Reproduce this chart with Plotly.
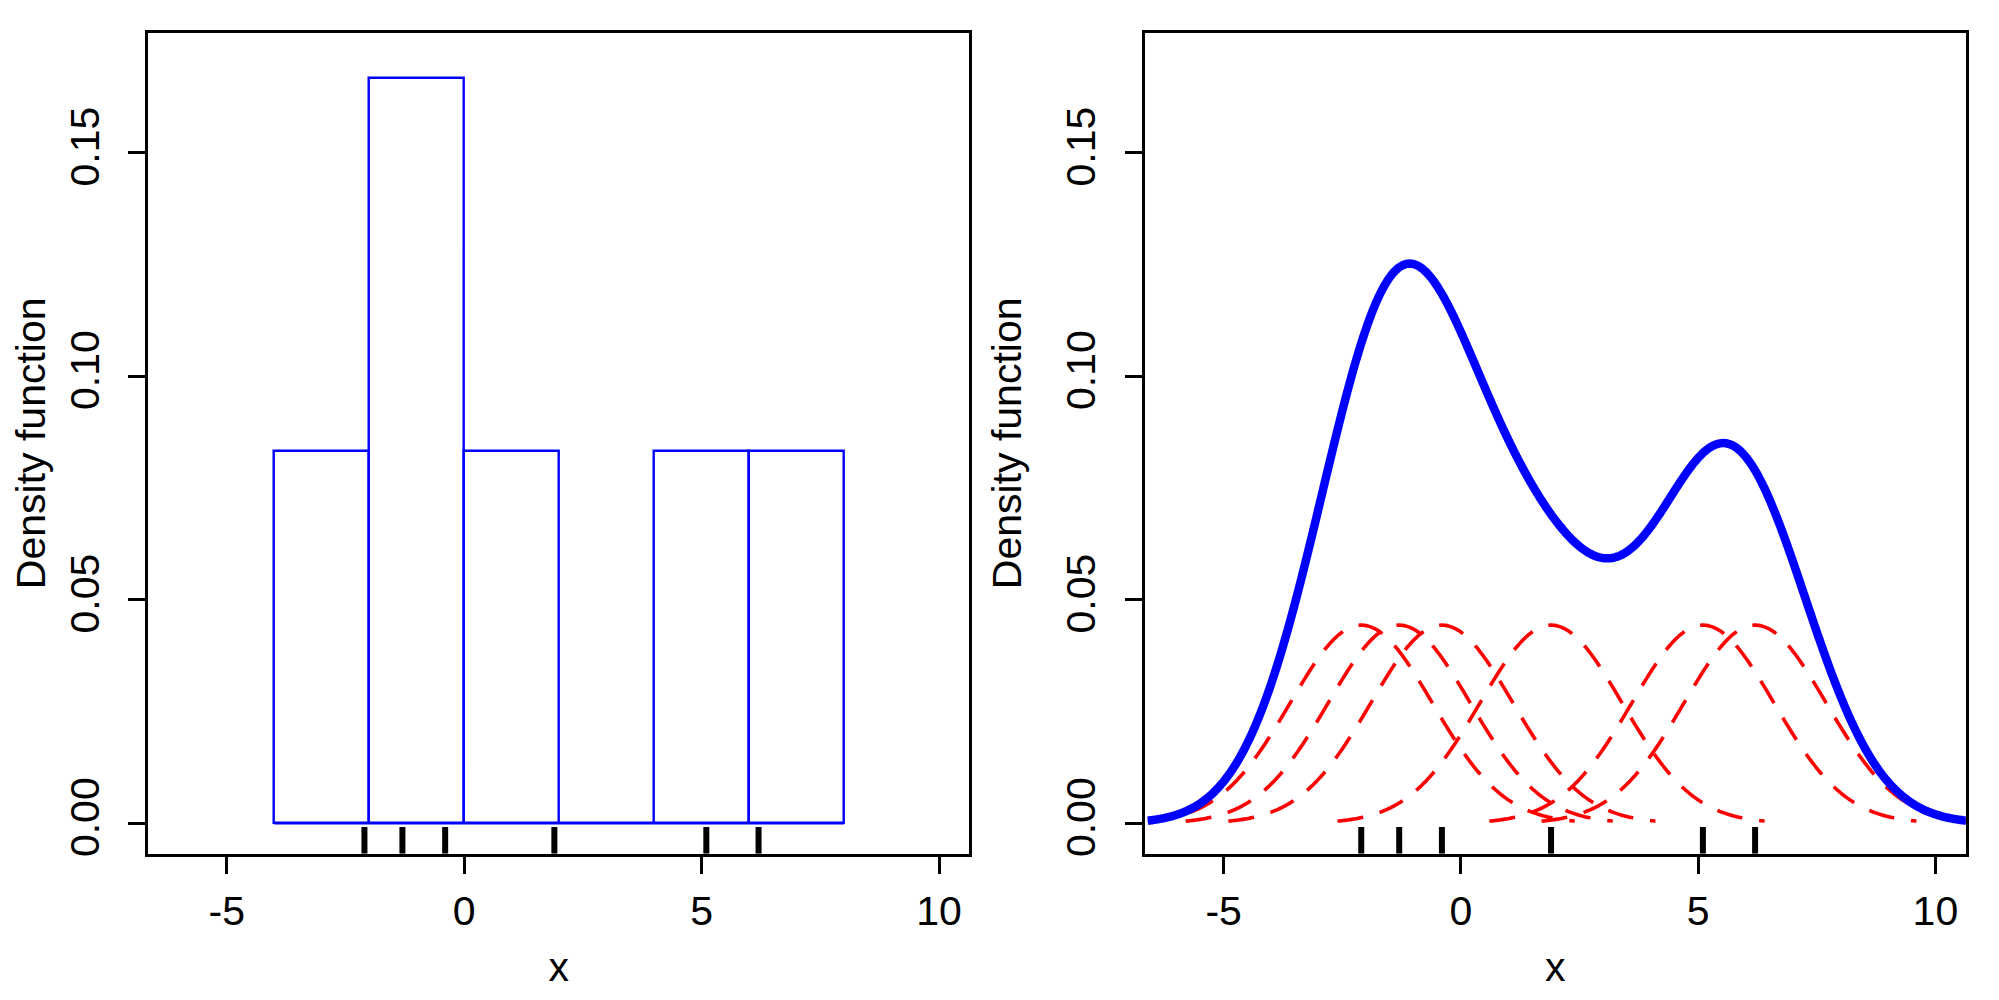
import numpy as np
import plotly.graph_objects as go

# ---- data ----
samples = [-2.1, -1.3, -0.4, 1.9, 5.1, 6.2]
bandwidth = 1.5
bin_edges = [-4, -2, 0, 2, 4, 6, 8]
x_ticks = [-5, 0, 5, 10]
x_tick_labels = ["-5", "0", "5", "10"]
y_ticks = [0.00, 0.05, 0.10, 0.15]
y_tick_labels = ["0.00", "0.05", "0.10", "0.15"]

x_range = [-6.66, 10.64]
y_range = [-0.0068, 0.1768]
rug_top = -0.0008

n = len(samples)
counts, _ = np.histogram(samples, bins=bin_edges)
widths = np.diff(bin_edges)
dens = counts / (n * widths)
centers = (np.array(bin_edges[:-1]) + np.array(bin_edges[1:])) / 2


def kernel(xs, mu):
    return np.exp(-0.5 * ((xs - mu) / bandwidth) ** 2) / (n * bandwidth * np.sqrt(2 * np.pi))


grid = np.linspace(min(samples) - 3 * bandwidth, max(samples) + 3 * bandwidth, 800)
kde = sum(kernel(grid, s) for s in samples)

fig = go.Figure()

# histogram (left)
fig.add_trace(go.Bar(x=centers, y=dens, width=widths, marker=dict(color="rgba(0,0,0,0)",
                     line=dict(color="#0000FF", width=2.4)), xaxis="x", yaxis="y",
                     showlegend=False, hoverinfo="skip"))
fig.add_trace(go.Scatter(x=[bin_edges[0], bin_edges[-1]], y=[0, 0], mode="lines",
                         line=dict(color="#0000FF", width=2.4), xaxis="x", yaxis="y",
                         showlegend=False, hoverinfo="skip"))

# kernels (right)
for s in samples:
    xs = np.linspace(s - 3 * bandwidth, s + 3 * bandwidth, 300)
    fig.add_trace(go.Scatter(x=xs, y=kernel(xs, s), mode="lines",
                             line=dict(color="#FF0000", width=3.6, dash="26px,17px", simplify=False),
                             xaxis="x2", yaxis="y2", showlegend=False, hoverinfo="skip"))
fig.add_trace(go.Scatter(x=grid, y=kde, mode="lines",
                         line=dict(color="#0000FF", width=8.5, simplify=False),
                         xaxis="x2", yaxis="y2", showlegend=False, hoverinfo="skip"))

# rugs
rx, ry = [], []
for s in samples:
    rx += [s, s, None]
    ry += [y_range[0], rug_top, None]
for xa, ya in (("x", "y"), ("x2", "y2")):
    fig.add_trace(go.Scatter(x=rx, y=ry, mode="lines", line=dict(color="black", width=6),
                             xaxis=xa, yaxis=ya, showlegend=False, hoverinfo="skip"))

font = dict(family="Liberation Sans, Arial, sans-serif", size=41, color="black")
xcommon = dict(range=x_range, tickvals=x_ticks, ticktext=x_tick_labels, ticks="outside",
               ticklen=17, tickwidth=3, tickcolor="black", showline=True, linewidth=3,
               linecolor="black", mirror=True, showgrid=False, zeroline=False, tickfont=font,
               ticklabelstandoff=2, title=dict(text="x", font=font, standoff=20))
ycommon = dict(range=y_range, tickvals=y_ticks, ticktext=y_tick_labels, tickangle=-90,
               ticks="outside", ticklen=17, tickwidth=3, tickcolor="black", showline=True,
               linewidth=3, linecolor="black", mirror=True, showgrid=False, zeroline=False,
               tickfont=font, ticklabelstandoff=13,
               title=dict(text="Density function", font=font, standoff=25))

# page body has an 8px margin; figure sized to fit the 1999x1000 window
W, H, OFF = 1983, 984, 8


def xd(a, b):
    return [(a - OFF) / W, (b - OFF) / W]


ydom = [1 - (856.3 - OFF) / H, 1 - (33 - OFF) / H]
fig.update_layout(
    width=W, height=H,
    margin=dict(l=0, r=0, t=0, b=0),
    paper_bgcolor="white", plot_bgcolor="white",
    bargap=0,
    xaxis=dict(domain=xd(142.3, 966.3), anchor="y", **xcommon),
    yaxis=dict(domain=ydom, anchor="x", **ycommon),
    xaxis2=dict(domain=xd(1142.3, 1965.7), anchor="y2", **xcommon),
    yaxis2=dict(domain=ydom, anchor="x2", **ycommon),
    font=font,
)

fig.write_html("out.html")
